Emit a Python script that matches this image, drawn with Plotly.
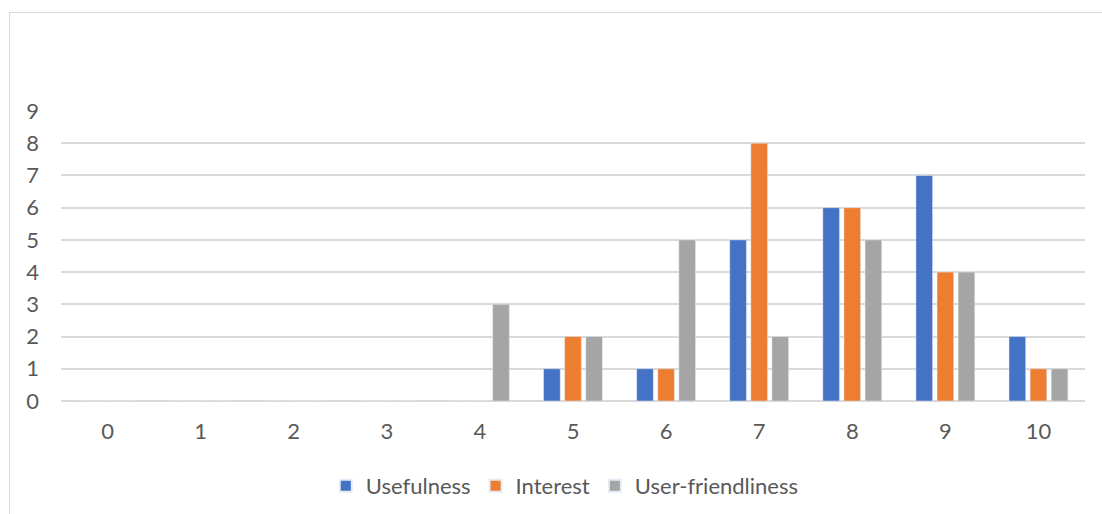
import plotly.graph_objects as go

categories = ["0", "1", "2", "3", "4", "5", "6", "7", "8", "9", "10"]
usefulness = [0, 0, 0, 0, 0, 1, 1, 5, 6, 7, 2]
interest = [0, 0, 0, 0, 0, 2, 1, 8, 6, 4, 1]
user_friendliness = [0, 0, 0, 0, 3, 2, 5, 2, 5, 4, 1]
y_ticks = list(range(0, 10))

FONT = "Lato, 'Noto Sans', sans-serif"
TXT = "#595959"
GRID = "#d9d9d9"
FS = 22

fig = go.Figure()
fig.add_trace(go.Bar(name="Usefulness", x=categories, y=usefulness, marker_color="#4472C4"))
fig.add_trace(go.Bar(name="Interest", x=categories, y=interest, marker_color="#ED7D31"))
fig.add_trace(go.Bar(name="User-friendliness", x=categories, y=user_friendliness, marker_color="#A5A5A5"))

W, H = 1102, 514
L, R, T, B = 61, 17, 111, 113
pw, ph = W - L - R, H - T - B

def px_x(px):
    return (px - L) / pw

def px_y(py):
    return (H - B - py) / ph

fig.update_layout(
    width=W, height=H,
    margin=dict(l=L, r=R, t=T, b=B, autoexpand=False),
    paper_bgcolor="white", plot_bgcolor="white",
    barmode="group", bargap=0.32, bargroupgap=0.21,
    font=dict(family=FONT, size=FS, color=TXT),
    showlegend=True,
    legend=dict(orientation="h", x=0.492, xanchor="center", y=px_y(486), yanchor="middle",
                font=dict(family=FONT, size=FS, color=TXT), itemsizing="constant",
                traceorder="normal"),
    xaxis=dict(type="category", range=[-0.5, 10.5], showgrid=False, showline=False,
               zeroline=False, ticks="", ticklabelstandoff=15,
               tickfont=dict(family=FONT, size=FS, color=TXT)),
    yaxis=dict(range=[0, 9], tickvals=y_ticks, showgrid=True, gridcolor=GRID, gridwidth=1.5,
               zeroline=True, zerolinecolor=GRID, zerolinewidth=1.5, showline=False,
               ticks="", ticklabelstandoff=21,
               tickfont=dict(family=FONT, size=FS, color=TXT)),
    shapes=[dict(type="rect", xref="paper", yref="paper",
                 x0=px_x(9.5), x1=px_x(1120), y0=px_y(12.5), y1=px_y(530),
                 line=dict(color=GRID, width=1), fillcolor="rgba(0,0,0,0)", layer="below")],
)

fig.write_html("out.html")
